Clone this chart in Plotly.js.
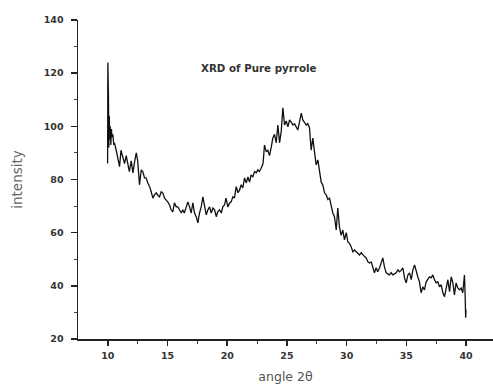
<!DOCTYPE html>
<html>
<head>
<meta charset="utf-8">
<script src="https://cdn.plot.ly/plotly-3.0.1.min.js"></script>
<style>html,body{margin:0;padding:0;background:#fff;}#chart{width:493px;height:384px;}</style>
</head>
<body>
<div id="chart"></div>
<script>
const angle = [9.98,10.0,10.02,10.05,10.08,10.12,10.16,10.2,10.25,10.3,10.35,10.42,10.5,10.55,10.7,10.85,10.98,11.1,11.26,11.4,11.54,11.68,11.8,11.96,12.1,12.24,12.38,12.5,12.65,12.8,12.93,13.07,13.2,13.35,13.5,13.63,13.77,13.9,14.05,14.2,14.33,14.47,14.6,14.75,14.9,15.03,15.17,15.3,15.44,15.58,15.73,15.86,16.0,16.15,16.28,16.4,16.57,16.7,16.84,16.98,17.12,17.26,17.4,17.54,17.68,17.82,17.96,18.1,18.24,18.38,18.52,18.66,18.8,18.94,19.08,19.2,19.36,19.5,19.63,19.77,19.9,20.05,20.2,20.33,20.47,20.6,20.75,20.9,21.03,21.17,21.3,21.45,21.6,21.73,21.87,22.0,22.14,22.29,22.43,22.56,22.7,22.85,23.0,23.12,23.27,23.4,23.54,23.68,23.82,23.96,24.1,24.24,24.38,24.52,24.66,24.8,24.94,25.08,25.22,25.36,25.5,25.64,25.78,25.91,26.05,26.2,26.33,26.47,26.62,26.75,26.89,27.03,27.17,27.31,27.45,27.59,27.73,27.87,28.0,28.15,28.29,28.43,28.57,28.7,28.84,28.98,29.13,29.26,29.4,29.54,29.68,29.82,29.97,30.1,30.24,30.38,30.52,30.66,30.8,30.94,31.08,31.22,31.36,31.5,31.64,31.78,31.92,32.06,32.19,32.33,32.47,32.6,32.76,32.9,33.03,33.17,33.31,33.45,33.59,33.73,33.87,34.01,34.15,34.29,34.43,34.57,34.71,34.85,34.99,35.13,35.27,35.41,35.55,35.69,35.83,35.96,36.1,36.24,36.38,36.52,36.66,36.8,36.94,37.08,37.22,37.36,37.5,37.64,37.78,37.92,38.06,38.2,38.34,38.48,38.62,38.76,38.9,39.03,39.17,39.31,39.45,39.59,39.73,39.87,39.93,39.97,40.0];
const intensity = [86,124,88,112,92,104,95,100,93,99,96,97,93,93.8,91,88,84.8,91,88.5,86,89,85.5,83,87,82.5,86.6,90,87,78,83.6,83,80.6,80.6,78.7,77.3,75.4,73,74.2,75,74,73.5,75.4,75,73,72.3,71.5,70.4,68.6,67.8,71.2,69.7,69.7,68.6,67.4,68.6,67.4,69.7,71.6,69.7,67.4,71.2,67.4,66,63.7,67.4,69.7,73.5,69.7,66.7,68.6,69.7,67.4,69.3,68.6,66,67.8,68.6,67.4,69.7,70.4,73,69.7,71.2,71.6,73.5,73,77.3,75,76,78,76.8,80.6,78.7,81,79,81.7,81,83,82.5,83.6,83,84.3,86,93,90.4,91,89,92,95.6,97,93.8,100.5,93.8,98,107,100.5,102,99.8,102.4,101.6,100.5,101,99.4,98.6,101.6,105,102.4,101.6,100.5,101,99.4,91,95.6,90.4,85.5,87.4,83,79,78,75,74.2,72.5,73,70,67.4,66,61,69.3,62.2,59,61,57.3,60,56.5,56,54.7,52.8,53.5,52.8,52,51.6,52.5,51.6,51,50.5,49,48.6,49,47.1,44.9,46.8,45.3,46.8,48.6,50.5,47.1,44.9,44.5,44.1,45,44.1,44.5,44.9,46,45.3,45.8,46.8,43,41.1,44.1,44.9,42.3,46,47.9,44.9,43.4,41.5,37.4,39.6,38.5,41.5,42.3,43.4,43,44.1,42.3,41.1,41.5,39.6,40.4,37.4,35.9,39.6,42.3,37.8,43.4,41.1,36.6,41.1,39.2,38.5,39.2,37.4,44.1,36,28,31];
const chartTitle = "XRD of Pure pyrrole";
const xTitle = "angle 2θ";
const yTitle = "intensity";

const tickFont = {family: "DejaVu Sans, sans-serif", size: 9.5, color: "#333", weight: "bold"};

Plotly.newPlot("chart", [{
  x: angle, y: intensity, type: "scatter", mode: "lines",
  line: {color: "#111", width: 1.3}, hoverinfo: "skip"
}], {
  width: 493, height: 384,
  margin: {l: 78, r: 0, t: 20, b: 45},
  paper_bgcolor: "#fff", plot_bgcolor: "#fff",
  showlegend: false,
  xaxis: {
    range: [7.5, 42.26], tickvals: [10,15,20,25,30,35,40], automargin: false,
    showgrid: false, zeroline: false, showline: true, linecolor: "#222", linewidth: 1.5,
    ticks: "outside", ticklen: 5, tickwidth: 1.5, tickcolor: "#222", ticklabelstandoff: 2,
    minor: {tickvals: [12.5,17.5,22.5,27.5,32.5,37.5], ticks: "outside", ticklen: 3, tickcolor: "#444", tickwidth: 1},
    tickfont: tickFont,
    title: {text: xTitle, font: {family: "DejaVu Sans, sans-serif", size: 12.5, color: "#555"}, standoff: 13}
  },
  yaxis: {
    range: [20, 140], tickvals: [20,40,60,80,100,120,140], automargin: false,
    showgrid: false, zeroline: false, showline: true, linecolor: "#222", linewidth: 1.5,
    ticks: "outside", ticklen: 6, tickwidth: 1.5, tickcolor: "#222", ticklabelstandoff: 5,
    minor: {tickvals: [30,50,70,90,110,130], ticks: "outside", ticklen: 3, tickcolor: "#444", tickwidth: 1},
    tickfont: tickFont,
    title: {text: yTitle, font: {family: "DejaVu Sans, sans-serif", size: 13.5, color: "#666"}, standoff: 18}
  },
  annotations: [{
    text: chartTitle, xref: "x", yref: "y", x: 17.6, y: 122, xanchor: "left", yanchor: "middle",
    showarrow: false, font: {family: "DejaVu Sans, sans-serif", size: 10.3, color: "#333", weight: "bold"}
  }]
}, {displayModeBar: false, staticPlot: true});
</script>
</body>
</html>
